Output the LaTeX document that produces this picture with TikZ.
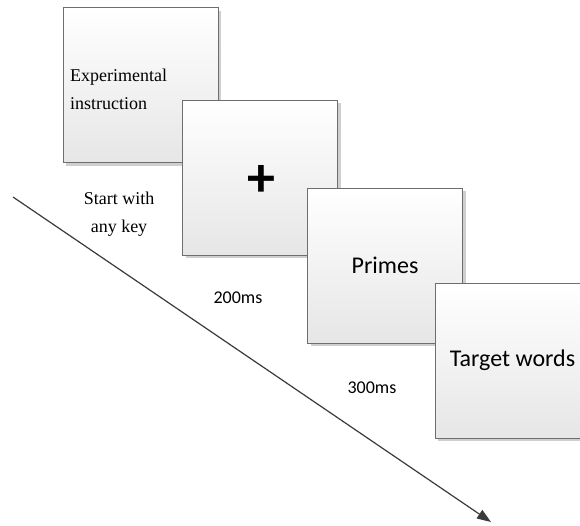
\documentclass[tikz,border=0pt]{standalone}
\usepackage{fontspec}
\setmainfont{Liberation Serif}
\newfontfamily\cali{Carlito}
\usepackage{xcolor}
\usepackage{tikz}
\usetikzlibrary{positioning,arrows.meta,shadows}

\definecolor{boxline}{HTML}{6E6E6E}
\definecolor{boxshade}{HTML}{E6E6E6}
\definecolor{shadowgray}{HTML}{CFCFCF}
\definecolor{arrowgray}{HTML}{3A3A3A}

\begin{document}
\begin{tikzpicture}[
  x=1pt, y=-1pt,
  screen/.style={draw=boxline, line width=0.9pt, minimum width=155pt, minimum height=155pt,
                 top color=white, bottom color=boxshade, inner sep=0pt,
                 drop shadow={shadow xshift=3pt, shadow yshift=-3pt, fill=shadowgray, opacity=1}},
  serif/.style={font=\fontsize{18}{28}\selectfont, inner sep=0pt},
  sans/.style={font=\cali\fontsize{18}{22}\selectfont, inner sep=0pt},
  arr/.style={-{Triangle[length=14pt, width=10pt]}, line width=1.2pt, arrowgray},
]
\useasboundingbox (0,0) rectangle (580,525);

\node[screen] (instr)  at (140.5, 85)  {};
\node[screen] (fix)    at (260,177.5)  {};
\node[screen] (prime)  at (385,265.5)  {};
\node[screen] (target) at (512.5,360.5) {};

\node[serif, anchor=west, align=left] (instrtext) at (70,89) {Experimental\\instruction};
\node[font=\cali\bfseries\fontsize{56}{56}\selectfont, inner sep=0pt] (cross) at (261,181) {+};
\node[sans, font=\cali\fontsize{24}{28}\selectfont] (primetext) at (prime.center) {Primes};
\node[sans, font=\cali\fontsize{24}{28}\selectfont] (targettext) at (target.center) {Target words};

\node[serif, align=center] (startkey) at (119,214) {Start with\\any key};
\node[sans] (t200) at (238,298) {200ms};
\node[sans] (t300) at (372,388) {300ms};

\coordinate (tstart) at (13,197);
\coordinate (tend)   at (491,522);
\draw[arr] (tstart) -- (tend);
\end{tikzpicture}
\end{document}
